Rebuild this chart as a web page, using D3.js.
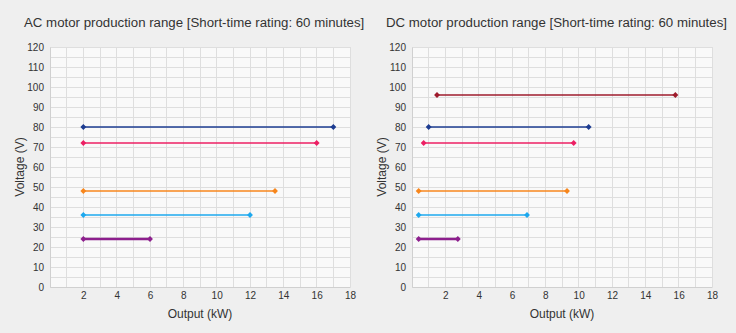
<!DOCTYPE html>
<html><head><meta charset="utf-8">
<script src="https://cdn.jsdelivr.net/npm/d3@7"></script>
<style>
html,body{margin:0;padding:0;background:#efefef;}
svg{display:block;font-family:"Liberation Sans",Arial,Helvetica,sans-serif;}
</style></head><body>
<svg id="c" width="736" height="333"></svg>
<script>
// ---- data ----
const titles = ["AC motor production range [Short-time rating: 60 minutes]",
                "DC motor production range [Short-time rating: 60 minutes]"];
const xTicks = [2,4,6,8,10,12,14,16,18];
const yTicks = [0,10,20,30,40,50,60,70,80,90,100,110,120];
const acVoltages = [80, 72, 48, 36, 24];
const acMin      = [2, 2, 2, 2, 2];
const acMax      = [17, 16, 13.5, 12, 6];
const acColors   = ["#1d3c91", "#ec1f63", "#f7861c", "#1ca8ee", "#8d1f8d"];
const dcVoltages = [96, 80, 72, 48, 36, 24];
const dcMin      = [1.5, 1.0, 0.7, 0.4, 0.4, 0.4];
const dcMax      = [15.8, 10.6, 9.7, 9.3, 6.9, 2.75];
const dcColors   = ["#9e1b2c", "#1d3c91", "#ec1f63", "#f7861c", "#1ca8ee", "#8d1f8d"];

const svg = d3.select("#c");

function panel(ox, title, volts, mins, maxs, colors){
  const left = ox + 50, right = ox + 350, top = 47, bottom = 287;
  const x = d3.scaleLinear().domain([0,18]).range([left,right]);
  const y = d3.scaleLinear().domain([0,120]).range([bottom,top]);
  const g = svg.append("g");
  g.append("rect").attr("x",left).attr("y",top).attr("width",right-left).attr("height",bottom-top)
    .attr("fill","#f9f9f9");
  // grid
  g.append("g").selectAll("line").data(d3.range(0,19,1)).join("line")
    .attr("x1",d=>x(d)).attr("x2",d=>x(d)).attr("y1",top).attr("y2",bottom)
    .attr("stroke","#dedede").attr("stroke-width",1).attr("shape-rendering","crispEdges");
  g.append("g").selectAll("line").data(d3.range(0,121,5)).join("line")
    .attr("x1",left).attr("x2",right).attr("y1",d=>y(d)).attr("y2",d=>y(d))
    .attr("stroke","#dedede").attr("stroke-width",1).attr("shape-rendering","crispEdges");
  // axes
  const xa = g.append("g").attr("transform",`translate(0,${bottom})`)
    .call(d3.axisBottom(x).tickValues(xTicks).tickSize(0).tickPadding(5));
  xa.select(".domain").attr("stroke","#d0d0d0");
  xa.selectAll("text").attr("fill","#333").attr("font-size","10px").attr("font-family","Liberation Sans, Arial, sans-serif");
  const ya = g.append("g").attr("transform",`translate(${left},0)`)
    .call(d3.axisLeft(y).tickValues(yTicks).tickSize(0).tickPadding(6));
  ya.select(".domain").attr("stroke","#d0d0d0");
  ya.selectAll("text").attr("fill","#333").attr("font-size","10px").attr("font-family","Liberation Sans, Arial, sans-serif");
  // labels
  g.append("text").attr("x",ox+24).attr("y",27).attr("font-size","13.25px").attr("fill","#333").text(title);
  g.append("text").attr("x",(left+right)/2).attr("y",318).attr("text-anchor","middle")
    .attr("font-size","12px").attr("fill","#333").text("Output (kW)");
  g.append("text").attr("transform",`translate(${ox+24},${(top+bottom)/2}) rotate(-90)`)
    .attr("text-anchor","middle").attr("font-size","12px").attr("fill","#333").text("Voltage (V)");
  // series
  volts.forEach((v,i)=>{
    const s = g.append("g");
    s.append("line").attr("x1",x(mins[i])).attr("x2",x(maxs[i])).attr("y1",y(v)).attr("y2",y(v))
      .attr("stroke",colors[i]).attr("stroke-width", i===volts.length-1 ? 2.5 : 1.6);
    [mins[i],maxs[i]].forEach(k=>{
      s.append("path").attr("d",d3.symbol(d3.symbolDiamond2,22)())
        .attr("transform",`translate(${x(k)},${y(v)})`).attr("fill",colors[i]);
    });
  });
}
panel(0, titles[0], acVoltages, acMin, acMax, acColors);
panel(362, titles[1], dcVoltages, dcMin, dcMax, dcColors);
</script>
</body></html>
